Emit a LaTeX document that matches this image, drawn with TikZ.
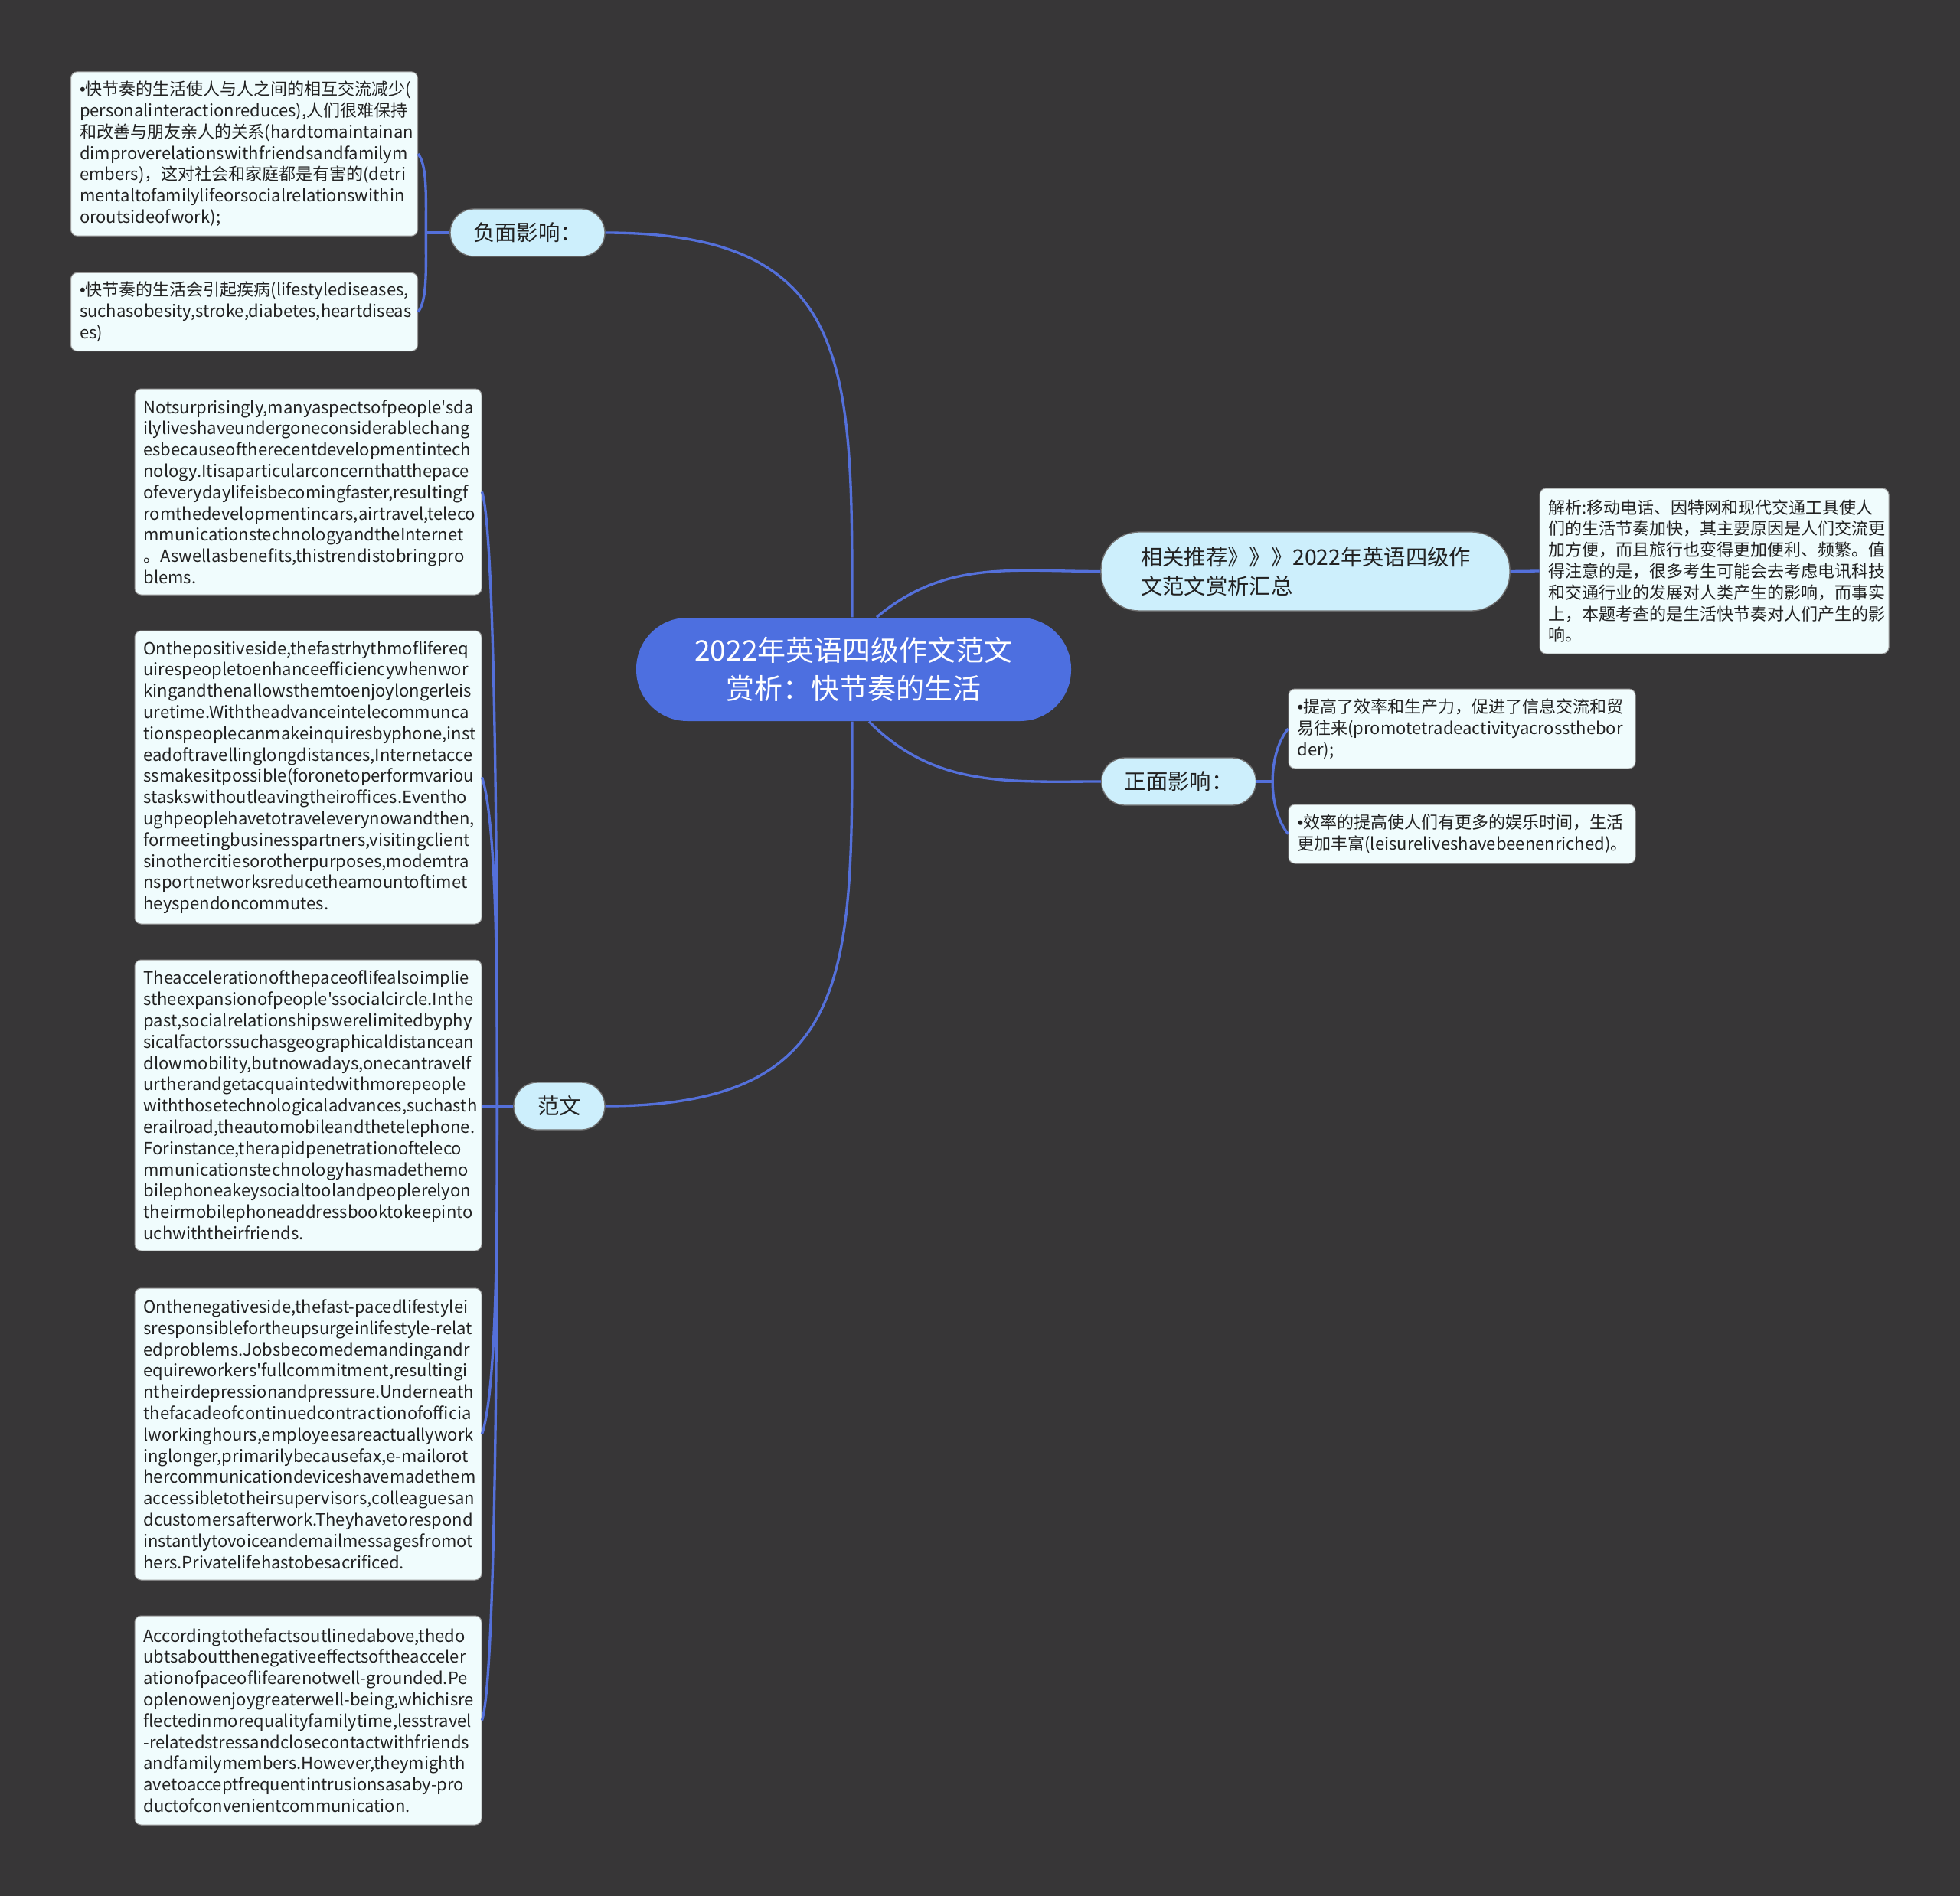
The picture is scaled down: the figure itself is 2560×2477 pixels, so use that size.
\documentclass[tikz,border=0pt]{standalone}
\usepackage{fontspec}
\setmainfont{Noto Sans CJK SC}
\newfontfamily\mapfont{Noto Sans CJK SC}
\newfontfamily\bulletfont{Liberation Sans}
\newcommand\itemdot{{\bulletfont •}}
\hyphenpenalty=10000
\exhyphenpenalty=10000
\definecolor{bgdark}{HTML}{373637}
\definecolor{rootblue}{HTML}{4D6FE0}
\definecolor{linkblue}{HTML}{5470DA}
\definecolor{topicfill}{HTML}{CDEFFC}
\definecolor{leaffill}{HTML}{F0FCFD}
\definecolor{textdark}{HTML}{222222}

\begin{document}
\begin{tikzpicture}[x=0.3pt, y=0.3pt,
	every node/.style={font=\mapfont\fontsize{6.6}{8.34}\selectfont, text=textdark},
	rootnode/.style={fill=rootblue, text=white, rounded corners=20pt, minimum width=170.4pt, minimum height=40.5pt, align=center, font=\mapfont\fontsize{11.1}{15.2}\selectfont},
	topic/.style={fill=topicfill, draw=black!55, line width=0.4pt, rounded corners=9.3pt, minimum height=18.6pt, inner sep=0pt, font=\mapfont\fontsize{8.5}{11.3}\selectfont},
	leaf/.style={fill=leaffill, draw=black!40, line width=0.3pt, rounded corners=2.5pt, text width=129pt, inner xsep=3.45pt, inner ysep=0pt, minimum height=#1, align=left},
	link/.style={draw=linkblue, line width=1pt}]
	\fill[bgdark] (0,0) rectangle (2560,-2477);
	\useasboundingbox (0,0) rectangle (2560,-2477);

	% centre and main branches
	\node[rootnode] (root) at (1115,-874.5) {2022年英语四级作文范文\\赏析：快节奏的生活};
	\node[topic, minimum width=60.6pt] (neg) at (689,-304) {负面影响：};
	\node[topic, minimum width=35.7pt] (fw) at (730.5,-1445) {范文};
	\node[topic, minimum width=160.2pt, minimum height=30.9pt, rounded corners=15pt, text width=129pt, align=left, inner xsep=15.6pt] (rec) at (1705,-746.5) {相关推荐》》》2022年英语四级作\\文范文赏析汇总};
	\node[topic, minimum width=60.6pt] (pos) at (1539.5,-1021) {正面影响：};

	% leaves
	\node[leaf=64.3pt] (neg1) at (319,-201) {\itemdot 快节奏的生活使人与人之间的相互交流减少(\\personalinteractionreduces),人们很难保持\\和改善与朋友亲人的关系(hardtomaintainan\\dimproverelationswithfriendsandfamilym\\embers)，这对社会和家庭都是有害的(detri\\mentaltofamilylifeorsocialrelationswithin\\oroutsideofwork);};
	\node[leaf=30.7pt] (neg2) at (319,-407.5) {\itemdot 快节奏的生活会引起疾病(lifestylediseases,\\suchasobesity,stroke,diabetes,heartdiseas\\es)};
	\node[leaf=80.7pt] (fw1) at (402.5,-642.5) {Notsurprisingly,manyaspectsofpeople'sda\\ilyliveshaveundergoneconsiderablechang\\esbecauseoftherecentdevelopmentintech\\nology.Itisaparticularconcernthatthepace\\ofeverydaylifeisbecomingfaster,resultingf\\romthedevelopmentincars,airtravel,teleco\\mmunicationstechnologyandtheInternet\\。Aswellasbenefits,thistrendistobringpro\\blems.};
	\node[leaf=114.9pt] (fw2) at (402.5,-1015.5) {Onthepositiveside,thefastrhythmoflifereq\\uirespeopletoenhanceefficiencywhenwor\\kingandthenallowsthemtoenjoylongerleis\\uretime.Withtheadvanceintelecommunca\\tionspeoplecanmakeinquiresbyphone,inst\\eadoftravellinglongdistances,Internetacce\\ssmakesitpossible(foronetoperformvariou\\staskswithoutleavingtheiroffices.Eventho\\ughpeoplehavetotraveleverynowandthen,\\formeetingbusinesspartners,visitingclient\\sinothercitiesorotherpurposes,modemtra\\nsportnetworksreducetheamountoftimet\\heyspendoncommutes.};
	\node[leaf=114pt] (fw3) at (402.5,-1444) {Theaccelerationofthepaceoflifealsoimplie\\stheexpansionofpeople'ssocialcircle.Inthe\\past,socialrelationshipswerelimitedbyphy\\sicalfactorssuchasgeographicaldistancean\\dlowmobility,butnowadays,onecantravelf\\urtherandgetacquaintedwithmorepeople\\withthosetechnologicaladvances,suchasth\\erailroad,theautomobileandthetelephone.\\Forinstance,therapidpenetrationofteleco\\mmunicationstechnologyhasmadethemo\\bilephoneakeysocialtoolandpeoplerelyon\\theirmobilephoneaddressbooktokeepinto\\uchwiththeirfriends.};
	\node[leaf=114.3pt] (fw4) at (402.5,-1873.5) {Onthenegativeside,thefast-pacedlifestylei\\sresponsiblefortheupsurgeinlifestyle-relat\\edproblems.Jobsbecomedemandingandr\\equireworkers'fullcommitment,resultingi\\ntheirdepressionandpressure.Underneath\\thefacadeofcontinuedcontractionofofficia\\lworkinghours,employeesareactuallywork\\inglonger,primarilybecausefax,e-mailorot\\hercommunicationdeviceshavemadethem\\accessibletotheirsupervisors,colleaguesan\\dcustomersafterwork.Theyhavetorespond\\instantlytovoiceandemailmessagesfromot\\hers.Privatelifehastobesacrificed.};
	\node[leaf=81.9pt] (fw5) at (402.5,-2247.5) {Accordingtothefactsoutlinedabove,thedo\\ubtsaboutthenegativeeffectsoftheacceler\\ationofpaceoflifearenotwell-grounded.Pe\\oplenowenjoygreaterwell-being,whichisre\\flectedinmorequalityfamilytime,lesstravel\\-relatedstressandclosecontactwithfriends\\andfamilymembers.However,theymighth\\avetoacceptfrequentintrusionsasaby-pro\\ductofconvenientcommunication.};
	\node[leaf=64.8pt, text width=129.9pt] (rec1) at (2239,-746) {解析:移动电话、因特网和现代交通工具使人\\们的生活节奏加快，其主要原因是人们交流更\\加方便，而且旅行也变得更加便利、频繁。值\\得注意的是，很多考生可能会去考虑电讯科技\\和交通行业的发展对人类产生的影响，而事实\\上，本题考查的是生活快节奏对人们产生的影\\响。};
	\node[leaf=31.2pt] (pos1) at (1909.5,-952) {\itemdot 提高了效率和生产力，促进了信息交流和贸\\易往来(promotetradeactivityacrossthebor\\der);};
	\node[leaf=23.1pt] (pos2) at (1909.5,-1089.5) {\itemdot 效率的提高使人们有更多的娱乐时间，生活\\更加丰富(leisureliveshavebeenenriched)。};

	% connectors from the centre
	\draw[link] ([xshift=-0.6pt]root.north) to[out=90, in=0, looseness=1.4] (neg.east);
	\draw[link] ([xshift=-0.6pt]root.south) to[out=-90, in=0, looseness=1.4] (fw.east);
	\draw[link] ([xshift=9pt]root.north) to[out=40, in=180] (rec.west);
	\draw[link] ([xshift=6pt]root.south) to[out=-45, in=180] (pos.west);

	% brackets to the leaves
	\coordinate (negb) at ([xshift=-9.3pt]neg.west);
	\draw[link] (neg.west) -- (negb);
	\draw[link] (negb) .. controls +(0,50) and +(12,-15) .. (neg1.east);
	\draw[link] (negb) .. controls +(0,-50) and +(12,15) .. (neg2.east);

	\coordinate (fwb) at ([xshift=-6.3pt]fw.west);
	\draw[link] (fw.west) -- (fw.west -| fw3.east);
	\foreach \kid in {fw1,fw2}
		\draw[link] (fwb) .. controls +(0,150) and +(20,-60) .. (\kid.east);
	\foreach \kid in {fw4,fw5}
		\draw[link] (fwb) .. controls +(0,-150) and +(20,60) .. (\kid.east);

	\draw[link] (rec.east) -- (rec1.west);

	\coordinate (posb) at ([xshift=6.3pt]pos.east);
	\draw[link] (pos.east) -- (posb);
	\draw[link] (posb) .. controls +(0,30) and +(-12,-15) .. (pos1.west);
	\draw[link] (posb) .. controls +(0,-30) and +(-12,15) .. (pos2.west);
\end{tikzpicture}
\end{document}
